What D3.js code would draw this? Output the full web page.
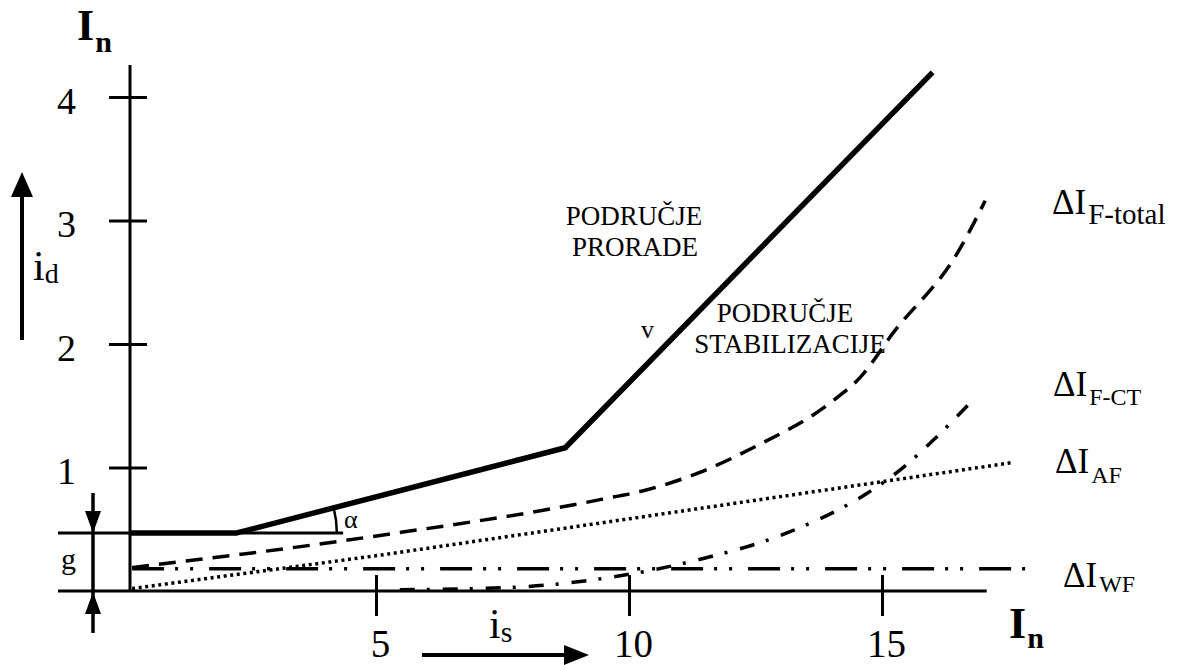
<!DOCTYPE html>
<html>
<head>
<meta charset="utf-8">
<script src="https://cdn.jsdelivr.net/npm/d3@7"></script>
<style>
  html, body { margin: 0; padding: 0; background: #fff; }
  svg { display: block; }
  text { font-family: "Liberation Serif", "DejaVu Serif", serif; fill: #000; }
</style>
</head>
<body>
<svg id="chart" width="1187" height="665"></svg>
<script>
// ---------- data ----------
const xTicks = [5, 10, 15];
const yTicks = [1, 2, 3, 4];
const gLevel = 0.47;

// operating characteristic (solid)
const charX = [0.14, 2.25, 8.74, 16.0];
const charY = [0.47, 0.47, 1.16, 4.2];

// ΔI F-total (dashed)
const totalX = [0.18, 4.23, 5.08, 9.43, 10.36, 11.40, 12.45, 14.03, 14.57, 15.22, 16.48, 17.04];
const totalY = [0.19, 0.40, 0.45, 0.74, 0.82, 0.96, 1.16, 1.54, 1.73, 2.09, 2.73, 3.16];

// ΔI F-CT (dash-dot)
const ctX = [5.47, 7.71, 9.62, 11.34, 13.12, 14.70, 15.36, 16.01, 16.78];
const ctY = [0.01, 0.03, 0.11, 0.25, 0.47, 0.79, 0.98, 1.22, 1.54];

// ΔI AF (dotted)
const afX = [0.18, 5.08, 9.76, 17.58];
const afY = [0.02, 0.29, 0.57, 1.04];

// ΔI WF (dash-dot-dot)
const wfX = [0.18, 17.87];
const wfY = [0.18, 0.18];

// ---------- scales ----------
const svg = d3.select("#chart");
const x = d3.scaleLinear().domain([0, 15]).range([123, 882]);
const y = d3.scaleLinear().domain([0, 4]).range([591, 97]);
const axisXpx = 130;           // vertical axis position (px)
const zip = (a, b) => a.map((v, i) => [v, b[i]]);

const lineLin = d3.line().x(d => x(d[0])).y(d => y(d[1]));
const lineCurve = d3.line().x(d => x(d[0])).y(d => y(d[1])).curve(d3.curveMonotoneX);

// ---------- axes ----------
svg.append("line")
  .attr("x1", 58).attr("x2", x(17.07))
  .attr("y1", y(0)).attr("y2", y(0))
  .attr("stroke", "#000").attr("stroke-width", 3);

svg.append("line")
  .attr("x1", 58).attr("x2", x(4.35))
  .attr("y1", y(gLevel)).attr("y2", y(gLevel))
  .attr("stroke", "#000").attr("stroke-width", 3);

svg.append("line")
  .attr("x1", axisXpx).attr("x2", axisXpx)
  .attr("y1", 65).attr("y2", y(0) + 1)
  .attr("stroke", "#000").attr("stroke-width", 3);

const gx = svg.append("g")
  .attr("transform", `translate(0,${y(0)})`)
  .call(d3.axisBottom(x).tickValues(xTicks).tickSize(25).tickPadding(8).tickFormat(d3.format("d")));
gx.select(".domain").remove();
gx.selectAll(".tick line").attr("y1", -16).attr("stroke", "#000").attr("stroke-width", 3);
gx.selectAll(".tick text")
  .attr("y", 66).attr("dy", 0).attr("dx", 4)
  .style("font-family", "Liberation Serif").style("font-size", "39px").attr("fill", "#000");

const gy = svg.append("g")
  .attr("transform", `translate(${axisXpx},0)`)
  .call(d3.axisLeft(y).tickValues(yTicks).tickSize(21).tickPadding(6).tickFormat(d3.format("d")));
gy.select(".domain").remove();
gy.selectAll(".tick line").attr("x1", 17).attr("stroke", "#000").attr("stroke-width", 3);
gy.selectAll(".tick text")
  .attr("x", -54).attr("dy", 0).attr("y", 16)
  .attr("text-anchor", "end")
  .style("font-family", "Liberation Serif").style("font-size", "38px").attr("fill", "#000");

// ---------- series ----------
svg.append("path").datum(zip(wfX, wfY)).attr("d", lineLin)
  .attr("fill", "none").attr("stroke", "#000").attr("stroke-width", 3.5)
  .attr("stroke-dasharray", "32,11,3,12,3,16");

svg.append("path").datum(zip(afX, afY)).attr("d", lineLin)
  .attr("fill", "none").attr("stroke", "#000").attr("stroke-width", 3.5)
  .attr("stroke-dasharray", "3,3.6");

svg.append("path").datum(zip(ctX, ctY)).attr("d", lineCurve)
  .attr("fill", "none").attr("stroke", "#000").attr("stroke-width", 3.5)
  .attr("stroke-dasharray", "15,12,3,13");

svg.append("path").datum(zip(totalX, totalY)).attr("d", lineCurve)
  .attr("fill", "none").attr("stroke", "#000").attr("stroke-width", 3.5)
  .attr("stroke-dasharray", "17,10");

svg.append("path").datum(zip(charX, charY)).attr("d", lineLin)
  .attr("fill", "none").attr("stroke", "#000").attr("stroke-width", 5.5)
  .attr("stroke-linejoin", "round");

// angle alpha arc
{
  const vx = x(charX[1]), vy = y(charY[1]);
  const th = Math.atan2(y(charY[1]) - y(charY[2]), x(charX[2]) - x(charX[1]));
  const p = d3.path();
  const r = 100;
  p.moveTo(vx + r * Math.cos(-th), vy + r * Math.sin(-th));
  p.arc(vx, vy, r, -th, 0);
  svg.append("path").attr("d", p.toString())
    .attr("fill", "none").attr("stroke", "#000").attr("stroke-width", 2.5);
  svg.append("text").attr("x", 344).attr("y", 528).style("font-size", "26px").text("α");
}

// ---------- arrows ----------
function arrowHead(tip, dir, len, half) {
  const [tx, ty] = tip, [dx, dy] = dir;
  const bx = tx - dx * len, by = ty - dy * len;
  const nx = -dy, ny = dx;
  return `M${tx},${ty}L${bx + nx * half},${by + ny * half}L${bx - nx * half},${by - ny * half}Z`;
}
svg.append("line").attr("x1", 22).attr("x2", 22).attr("y1", 340).attr("y2", 190)
  .attr("stroke", "#000").attr("stroke-width", 4);
svg.append("path").attr("d", arrowHead([22, 172], [0, -1], 25, 11)).attr("fill", "#000");
svg.append("line").attr("x1", 422).attr("x2", 570).attr("y1", 655).attr("y2", 655)
  .attr("stroke", "#000").attr("stroke-width", 4);
svg.append("path").attr("d", arrowHead([589, 655], [1, 0], 25, 10)).attr("fill", "#000");
svg.append("line").attr("x1", 93).attr("x2", 93).attr("y1", 493).attr("y2", 633)
  .attr("stroke", "#000").attr("stroke-width", 3.5);
svg.append("path").attr("d", arrowHead([93, y(gLevel)], [0, 1], 22, 8)).attr("fill", "#000");
svg.append("path").attr("d", arrowHead([93, y(0) + 1], [0, -1], 22, 8)).attr("fill", "#000");

// ---------- text ----------
function sub(xp, yp, main, subTxt, mainSize, subSize, dxSub, dySub, bold) {
  const t = svg.append("text").attr("x", xp).attr("y", yp)
    .style("font-size", mainSize + "px").style("font-weight", bold ? "bold" : "normal");
  t.append("tspan").text(main);
  t.append("tspan").attr("dx", dxSub).attr("dy", dySub)
    .style("font-size", subSize + "px").text(subTxt);
}
sub(77, 40, "I", "n", 44, 30, 1, 12, true);
sub(1009, 638, "I", "n", 44, 30, 1, 10, true);
sub(33, 280, "i", "d", 42, 28, 0, 3, false);
sub(489, 638, "i", "s", 42, 30, 0, 4, false);
svg.append("text").attr("x", 61).attr("y", 569).style("font-size", "30px").text("g");
svg.append("text").attr("x", 641).attr("y", 338).style("font-size", "26px").text("v");

[["PODRUČJE", 634, 225], ["PRORADE", 635, 256], ["PODRUČJE", 785, 322], ["STABILIZACIJE", 790, 353]]
  .forEach(([t, xp, yp]) => svg.append("text").attr("x", xp).attr("y", yp)
    .attr("text-anchor", "middle").style("font-size", "27px").text(t));

sub(1052, 214, "ΔI", "F-total", 35, 29, 2, 10, false);
sub(1053, 396, "ΔI", "F-CT", 35, 24, 2, 9, false);
sub(1055, 473, "ΔI", "AF", 35, 24, 2, 10, false);
sub(1063, 587, "ΔI", "WF", 35, 24, 2, 5, false);
</script>
</body>
</html>
